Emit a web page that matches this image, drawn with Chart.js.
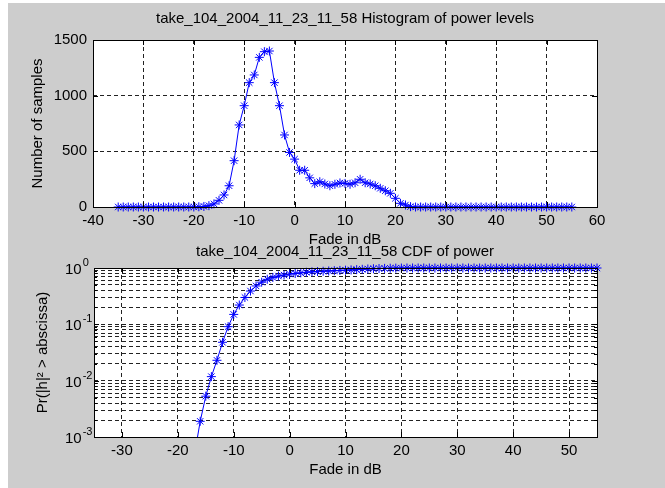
<!DOCTYPE html>
<html>
<head>
<meta charset="utf-8">
<script src="https://cdn.jsdelivr.net/npm/chart.js@4.4.1/dist/chart.umd.min.js"></script>
<style>
  html, body { margin: 0; padding: 0; background: #fff; overflow: hidden; width: 665px; height: 488px; }
  #frame { position: absolute; left: 8px; top: 3px; width: 657px; height: 485px; background: #cdcdcd; }
  canvas { position: absolute; left: 0; }
  #histCanvas { top: 0; }
  #cdfCanvas { top: 236px; }
</style>
</head>
<body>
<div id="frame"></div>
<canvas id="histCanvas" width="690" height="252"></canvas>
<canvas id="cdfCanvas" width="690" height="252"></canvas>
<script>
// Fade bins (dB), one marker per bin
const fadeDb = [
  -35, -34, -33, -32, -31, -30, -29, -28, -27, -26, -25, -24, -23, -22, -21, -20,
  -19, -18, -17, -16, -15, -14, -13, -12, -11, -10, -9, -8, -7, -6, -5, -4, -3, -2, -1,
  0, 1, 2, 3, 4, 5, 6, 7, 8, 9, 10, 11, 12, 13, 14, 15, 16, 17, 18, 19, 20,
  21, 22, 23, 24, 25, 26, 27, 28, 29, 30, 31, 32, 33, 34, 35, 36, 37, 38, 39, 40,
  41, 42, 43, 44, 45, 46, 47, 48, 49, 50, 51, 52, 53, 54, 55
];

// Histogram counts
const histCounts = [
  0, 0, 0, 0, 0, 0, 0, 0, 0, 0, 0, 0, 0, 0, 0, 0,
  2, 5, 12, 28, 60, 108, 191, 416, 737, 910, 1117, 1186, 1344, 1395, 1401, 1117, 910, 647, 490,
  430, 330, 330, 262, 210, 227, 207, 191, 204, 216, 212, 204, 218, 249, 218, 207, 191, 168, 146, 123, 78,
  33, 18, 3, 0, 0, 0, 0, 0, 0, 0, 0, 0, 0, 0, 0, 0, 0, 0, 0, 0,
  0, 0, 0, 0, 0, 0, 0, 0, 0, 0, 0, 0, 0, 0, 0
];

// CDF values (null = zero, not drawn on log axis)
const cdfValues = [
  null, null, null, null, null, null, null, null, null, null, null, null, null, null, null, null,
  0.00003, 0.00015, 0.0005, 0.0019, 0.0053, 0.0118, 0.023, 0.048, 0.091, 0.15, 0.22, 0.30, 0.39, 0.48, 0.56, 0.63, 0.68, 0.72, 0.75,
  0.78, 0.80, 0.82, 0.84, 0.855, 0.865, 0.875, 0.885, 0.895, 0.905, 0.915, 0.925, 0.935, 0.948, 0.96, 0.97, 0.978, 0.985, 0.99, 0.995, 0.998,
  0.999, 1, 1, 1, 1, 1, 1, 1, 1, 1, 1, 1, 1, 1, 1, 1, 1, 1, 1, 1,
  1, 1, 1, 1, 1, 1, 1, 1, 1, 1, 1, 1, 1, 1, 1
];

const histXTicks = [-40, -30, -20, -10, 0, 10, 20, 30, 40, 50, 60];
const histYTicks = [0, 500, 1000, 1500];
const cdfXTicks = [-30, -20, -10, 0, 10, 20, 30, 40, 50];
const cdfDecades = [-3, -2, -1, 0];

const FONT = "'Liberation Sans', Arial, sans-serif";
Chart.defaults.font.family = FONT;
Chart.defaults.font.size = 15;
Chart.defaults.color = '#000';

const toPoints = (ys) => fadeDb.map((x, i) => ({ x: x, y: ys[i] }));

// log ticks: 1..9 x 10^k for every decade, flag the powers of ten
function logTicks() {
  const out = [];
  cdfDecades.forEach(k => {
    if (k === 0) { out.push({ value: 1, major: true }); return; }
    for (let m = 1; m <= 9; m++) {
      out.push({ value: parseFloat((m * Math.pow(10, k)).toPrecision(3)), major: m === 1 });
    }
  });
  return out;
}

// MATLAB style axes: white box, black frame, inward tick marks
const matlabAxes = {
  id: 'matlabAxes',
  beforeDraw(chart) {
    const a = chart.chartArea, ctx = chart.ctx;
    ctx.save();
    ctx.fillStyle = '#fff';
    ctx.fillRect(a.left, a.top, a.right - a.left, a.bottom - a.top);
    ctx.restore();
  },
  afterDraw(chart) {
    const a = chart.chartArea, ctx = chart.ctx;
    const xs = chart.scales.x, ys = chart.scales.y;
    ctx.save();
    ctx.strokeStyle = '#000';
    ctx.lineWidth = 1;
    ctx.setLineDash([]);
    ctx.beginPath();
    xs.ticks.forEach(t => {
      const px = Math.round(xs.getPixelForValue(t.value)) + 0.5;
      ctx.moveTo(px, a.bottom); ctx.lineTo(px, a.bottom - 5);
      ctx.moveTo(px, a.top); ctx.lineTo(px, a.top + 5);
    });
    ys.ticks.forEach(t => {
      const py = Math.round(ys.getPixelForValue(t.value)) + 0.5;
      const len = (ys.type === 'logarithmic' && !t.major) ? 3 : 5;
      ctx.moveTo(a.left, py); ctx.lineTo(a.left + len, py);
      ctx.moveTo(a.right, py); ctx.lineTo(a.right - len, py);
    });
    ctx.stroke();
    ctx.strokeRect(Math.round(a.left) + 0.5, Math.round(a.top) + 0.5,
      Math.round(a.right - a.left), Math.round(a.bottom - a.top));
    ctx.restore();
  }
};

// "10" with a raised exponent for the log axis
const logLabels = {
  id: 'logLabels',
  afterDraw(chart) {
    const ys = chart.scales.y, ctx = chart.ctx;
    ctx.save();
    ctx.fillStyle = '#000';
    ctx.textBaseline = 'middle';
    ctx.textAlign = 'left';
    cdfDecades.forEach(k => {
      const py = ys.getPixelForValue(Math.pow(10, k));
      ctx.font = '15px ' + FONT;
      ctx.fillText('10', 65, py + 2);
      const w = ctx.measureText('10').width;
      ctx.font = '11px ' + FONT;
      ctx.fillText(k === 0 ? '0' : '-' + (-k), 65 + w + 1, py - 5);
    });
    ctx.restore();
  }
};

const gridOpts = { color: '#222', lineWidth: 1, drawTicks: false };
const borderOpts = { display: false, dash: [4, 3] };

// empty right axis so the chart title centres over the plot box
const spacerAxis = {
  type: 'linear', position: 'right', display: true,
  grid: { display: false }, border: { display: false }, ticks: { display: false },
  afterFit(scale) { scale.width = 93; }
};

new Chart(document.getElementById('histCanvas'), {
  type: 'line',
  data: {
    datasets: [{
      data: toPoints(histCounts),
      borderColor: '#0000ff',
      backgroundColor: '#0000ff',
      borderWidth: 1,
      pointStyle: 'star',
      pointRadius: 4.5,
      pointHoverRadius: 4.5,
      pointBorderColor: '#0000ff',
      pointBorderWidth: 1,
      tension: 0,
      clip: false
    }]
  },
  options: {
    responsive: false,
    animation: false,
    layout: { padding: 0 },
    plugins: {
      legend: { display: false },
      tooltip: { enabled: false },
      title: {
        display: true,
        text: 'take_104_2004_11_23_11_58 Histogram of power levels',
        font: { size: 15, weight: 'normal' },
        color: '#000',
        padding: { top: 10, bottom: 12 }
      }
    },
    scales: {
      x: {
        type: 'linear', min: -40, max: 60,
        grid: gridOpts, border: borderOpts,
        afterBuildTicks(scale) { scale.ticks = histXTicks.map(v => ({ value: v })); },
        afterFit(scale) { scale.height = 45; },
        ticks: { padding: 5, maxRotation: 0, autoSkip: false, callback: v => String(v) },
        title: { display: true, text: 'Fade in dB', padding: { top: 0, bottom: 3 } }
      },
      y: {
        type: 'linear', min: 0, max: 1500,
        grid: gridOpts, border: borderOpts,
        afterBuildTicks(scale) { scale.ticks = histYTicks.map(v => ({ value: v })); },
        afterFit(scale) { scale.width = 93; },
        ticks: { padding: 6, autoSkip: false, callback: v => String(v) },
        title: { display: true, text: 'Number of samples', padding: { top: 29, bottom: 0 } }
      },
      yr: spacerAxis
    }
  },
  plugins: [matlabAxes]
});

new Chart(document.getElementById('cdfCanvas'), {
  type: 'line',
  data: {
    datasets: [{
      data: toPoints(cdfValues),
      borderColor: '#0000ff',
      backgroundColor: '#0000ff',
      borderWidth: 1,
      pointStyle: 'star',
      pointRadius: 4.5,
      pointHoverRadius: 4.5,
      pointBorderColor: '#0000ff',
      pointBorderWidth: 1,
      tension: 0,
      spanGaps: false,
      clip: { left: 10, right: 10, top: 10, bottom: 0 }
    }]
  },
  options: {
    responsive: false,
    animation: false,
    layout: { padding: 0 },
    plugins: {
      legend: { display: false },
      tooltip: { enabled: false },
      title: {
        display: true,
        text: 'take_104_2004_11_23_11_58 CDF of power',
        font: { size: 15, weight: 'normal' },
        color: '#000',
        padding: { top: 7, bottom: 7 }
      }
    },
    scales: {
      x: {
        type: 'linear', min: -35, max: 55,
        grid: gridOpts, border: borderOpts,
        afterBuildTicks(scale) { scale.ticks = cdfXTicks.map(v => ({ value: v })); },
        afterFit(scale) { scale.height = 51; },
        ticks: { padding: 5, maxRotation: 0, autoSkip: false, callback: v => String(v) },
        title: { display: true, text: 'Fade in dB', padding: { top: 0, bottom: 9 } }
      },
      y: {
        type: 'logarithmic', min: 0.001, max: 1,
        grid: gridOpts, border: borderOpts,
        afterBuildTicks(scale) { scale.ticks = logTicks(); },
        afterFit(scale) { scale.width = 94; },
        ticks: { autoSkip: false, callback: () => '' },
        title: { display: true, text: 'Pr(|h|² > abscissa)', padding: { top: 34, bottom: 0 } }
      },
      yr: spacerAxis
    }
  },
  plugins: [matlabAxes, logLabels]
});
</script>
</body>
</html>
